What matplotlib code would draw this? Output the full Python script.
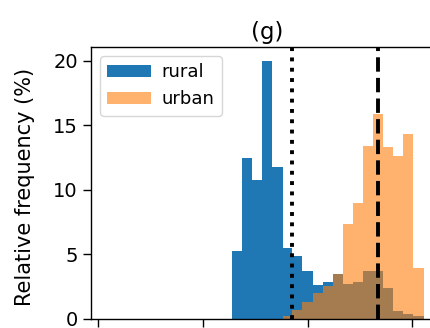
import numpy as np
import matplotlib
matplotlib.use("Agg")
import matplotlib.pyplot as plt

# bin edges shared by both histograms (x axis units, tick labels cut off in the source)
bin_edges = [1.275, 1.37, 1.47, 1.565, 1.66, 1.76, 1.855, 1.95, 2.05, 2.145,
             2.24, 2.335, 2.435, 2.53, 2.625, 2.72, 2.82, 2.915, 3.01, 3.11]

# relative frequency (%) per bin
rural = [5.3, 12.5, 10.8, 20.0, 11.8, 5.5, 4.9, 3.75, 2.6, 2.9,
         3.45, 2.7, 2.9, 3.75, 3.7, 2.4, 0.6, 0.4, 0.2]
urban = [0.0, 0.0, 0.0, 0.0, 0.0, 0.2, 0.7, 1.35, 2.0, 2.55,
         3.5, 7.4, 9.0, 13.4, 15.85, 13.3, 12.6, 14.3, 3.95]

rural_mark = 1.848   # dotted line
urban_mark = 2.669   # dashed line

x_ticks = [0, 1, 2, 3]
y_ticks = [0, 5, 10, 15, 20]

fig = plt.figure(figsize=(4.31, 3.28), dpi=100)
# axes run past the right edge, the source picture is cropped there
ax = fig.add_axes([91 / 431, 9 / 328, 352 / 431, 272 / 328])

lefts = np.array(bin_edges[:-1])
ax.hist(lefts, bins=bin_edges, weights=rural, color='#1f77b4', label='rural')
ax.hist(lefts, bins=bin_edges, weights=urban, color='#ff7f0e', alpha=0.6, label='urban')

ax.axvline(rural_mark, color='k', linestyle=':', linewidth=2.8)
ax.axvline(urban_mark, color='k', linestyle='--', linewidth=2.8)

ax.set_xlim(-0.07, 3.293)
ax.set_ylim(0, 21.08)
ax.set_xticks(x_ticks)
ax.set_xticklabels([])
ax.set_yticks(y_ticks)
ax.tick_params(labelsize=14, length=6, width=1)
for s in ax.spines.values():
    s.set_linewidth(1)

ax.set_ylabel('Relative frequency (%)', fontsize=15)
ax.yaxis.set_label_coords(-0.159, 0.487)
ax.set_title('(g)', fontsize=16.5, pad=6)
ax.legend(loc='upper left', fontsize=13, handlelength=2.4, handletextpad=0.6)

fig.savefig('out.png', dpi=100)
